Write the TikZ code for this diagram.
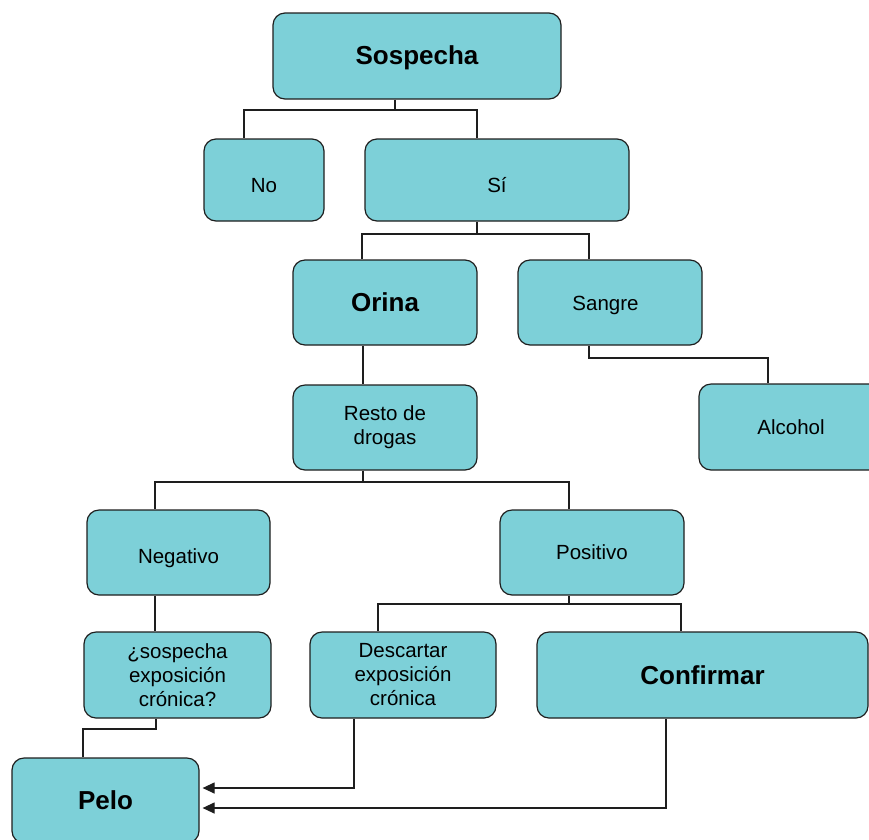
\documentclass[tikz,border=0pt]{standalone}
\usepackage{fontspec}
\setmainfont{Liberation Sans}
\usetikzlibrary{arrows.meta}
\definecolor{boxfill}{RGB}{125,208,216}
\definecolor{boxline}{RGB}{30,30,30}
\begin{document}
\begin{tikzpicture}[x=1pt,y=-1pt,
  box/.style={draw=boxline,line width=1.2pt,fill=boxfill,rounded corners=12pt,
    inner sep=0pt,align=center,font=\fontsize{20.5}{24}\selectfont},
  bigbox/.style={box,font=\fontsize{26}{30}\selectfont\bfseries},
  base/.style={text depth=0pt,text height=#1},
  conn/.style={draw=boxline,line width=1.2pt},
  arr/.style={conn,-{Triangle[length=12pt,width=11pt]},shorten >=3pt}]
\useasboundingbox (0,0) rectangle (869,839);
\clip (0,0) rectangle (869,839);
\node[bigbox,base=16.6pt,minimum width=288pt,minimum height=86pt] (sos) at (417,56) {Sospecha};
\node[box,base=25.4pt,minimum width=120pt,minimum height=82pt] (no) at (264,180) {No};
\node[box,base=25.4pt,minimum width=264pt,minimum height=82pt] (si) at (497,180) {Sí};
\node[bigbox,minimum width=184pt,minimum height=85pt] (ori) at (385,302.5) {Orina};
\node[box,base=16.4pt,minimum width=184pt,minimum height=85pt] (san) at (610,302.5) {Sangre\hspace{9pt}};
\node[box,minimum width=184pt,minimum height=85pt] (res) at (385,427.5) {Resto de\\drogas};
\node[box,minimum width=184pt,minimum height=86pt] (alc) at (791,427) {Alcohol};
\node[box,base=21.6pt,minimum width=183pt,minimum height=85pt] (neg) at (178.5,552.5) {Negativo};
\node[box,minimum width=184pt,minimum height=85pt] (pos) at (592,552.5) {Positivo};
\node[box,minimum width=187pt,minimum height=86pt] (sus) at (177.5,675) {¿sospecha\\exposición\\crónica?};
\node[box,minimum width=186pt,minimum height=86pt] (des) at (403,675) {Descartar\\exposición\\crónica};
\node[bigbox,minimum width=331pt,minimum height=86pt] (con) at (702.5,675) {Confirmar};
\node[bigbox,minimum width=187pt,minimum height=85pt] (pel) at (105.5,800.5) {Pelo};

\coordinate (j1) at (395,110);
\coordinate (j2) at (477,234);
\coordinate (j3) at (589,358);
\coordinate (j4) at (363,482);
\coordinate (j5) at (569,604);
\coordinate (j6) at (156,729);

\draw[conn] (sos.south -| j1) -- (j1) -| ([xshift=-20pt]no.north);
\draw[conn] (j1) -| ([xshift=-20pt]si.north);
\draw[conn] (si.south -| j2) -- (j2) -| ([xshift=-23pt]ori.north);
\draw[conn] (j2) -| ([xshift=-21pt]san.north);
\draw[conn] (san.south -| j3) -- (j3) -| ([xshift=-23pt]alc.north);
\draw[conn] ([xshift=-22pt]ori.south) -- ([xshift=-22pt]res.north);
\draw[conn] (res.south -| j4) -- (j4) -| ([xshift=-23.5pt]neg.north);
\draw[conn] (j4) -| ([xshift=-23pt]pos.north);
\draw[conn] ([xshift=-23.5pt]neg.south) -- ([xshift=-22.5pt]sus.north);
\draw[conn] (pos.south -| j5) -- (j5) -| ([xshift=-25pt]des.north);
\draw[conn] (j5) -| ([xshift=-21.5pt]con.north);
\draw[conn] (sus.south -| j6) -- (j6) -| ([xshift=-22.5pt]pel.north);
\draw[arr] ([xshift=-49pt]des.south) |- ([yshift=12.5pt]pel.east);
\draw[arr] ([xshift=-36.5pt]con.south) |- ([yshift=-7.5pt]pel.east);
\end{tikzpicture}
\end{document}
